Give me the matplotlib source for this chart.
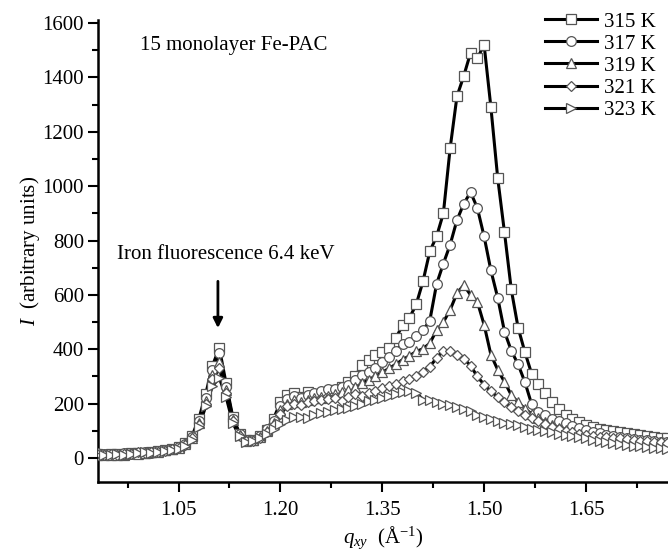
import matplotlib
matplotlib.use('Agg')
import matplotlib.pyplot as plt
from matplotlib.lines import Line2D

plt.rcParams['font.family'] = ['Liberation Serif', 'DejaVu Serif']
plt.rcParams['mathtext.fontset'] = 'custom'
plt.rcParams['mathtext.rm'] = 'Liberation Serif'
plt.rcParams['mathtext.it'] = 'Liberation Serif:italic'

# --- data ---
q = [0.93, 0.94, 0.95, 0.96, 0.97, 0.98, 0.99, 1.00, 1.01, 1.02,
     1.03, 1.04, 1.05, 1.06, 1.07, 1.08, 1.09, 1.10, 1.11, 1.12,
     1.13, 1.14, 1.15, 1.16, 1.17, 1.18, 1.19, 1.20, 1.21, 1.22,
     1.23, 1.24, 1.25, 1.26, 1.27, 1.28, 1.29, 1.30, 1.31, 1.32,
     1.33, 1.34, 1.35, 1.36, 1.37, 1.38, 1.39, 1.40, 1.41, 1.42,
     1.43, 1.44, 1.45, 1.46, 1.47, 1.48, 1.49, 1.50, 1.51, 1.52,
     1.53, 1.54, 1.55, 1.56, 1.57, 1.58, 1.59, 1.60, 1.61, 1.62,
     1.63, 1.64, 1.65, 1.66, 1.67, 1.68, 1.69, 1.70, 1.71, 1.72,
     1.73, 1.74, 1.75, 1.76, 1.77]

I_315 = [15, 12, 14, 16, 13, 18, 20, 18, 22, 25,
         30, 35, 42, 55, 82, 145, 235, 340, 405, 275,
         150, 90, 68, 66, 80, 105, 145, 205, 232, 238,
         225, 243, 226, 222, 236, 250, 262, 279, 300, 342,
         360, 380, 390, 404, 440, 490, 515, 565, 650, 760,
         815, 900, 1140, 1330, 1405, 1490, 1470, 1520, 1290, 1030,
         830, 620, 480, 390, 310, 272, 240, 205, 180, 160,
         145, 132, 122, 114, 108, 104, 100, 97, 93, 89,
         86, 82, 78, 75, 72]

I_317 = [18, 14, 12, 15, 17, 14, 19, 22, 20, 26,
         28, 33, 40, 52, 78, 135, 220, 325, 385, 262,
         145, 88, 66, 68, 82, 108, 138, 190, 218, 228,
         220, 232, 238, 245, 255, 255, 262, 270, 288, 305,
         318, 332, 352, 372, 395, 420, 428, 450, 470, 505,
         640, 715, 785, 875, 935, 978, 920, 815, 690, 590,
         465, 395, 345, 280, 198, 170, 158, 145, 136, 128,
         118, 110, 102, 96, 92, 86, 82, 78, 74, 71,
         68, 65, 62, 60, 58]

I_319 = [12, 16, 13, 12, 15, 18, 16, 20, 23, 22,
         29, 32, 38, 50, 75, 128, 210, 305, 355, 250,
         140, 85, 64, 65, 78, 100, 130, 175, 200, 212,
         205, 215, 222, 226, 230, 236, 242, 252, 262, 276,
         287, 300, 315, 330, 345, 362, 376, 392, 402, 422,
         470, 500, 545, 606, 636, 600, 575, 490, 380, 325,
         280, 232, 205, 182, 162, 148, 132, 120, 110, 102,
         96, 90, 85, 79, 75, 70, 66, 62, 59, 56,
         54, 52, 50, 48, 46]

I_321 = [14, 11, 15, 13, 16, 15, 21, 19, 24, 23,
         27, 34, 37, 48, 72, 122, 200, 290, 330, 240,
         135, 82, 62, 63, 75, 95, 122, 162, 190, 200,
         195, 205, 210, 212, 218, 222, 210, 226, 235, 230,
         240, 248, 258, 265, 272, 282, 290, 300, 318, 336,
         368, 395, 392, 380, 366, 340, 300, 270, 245, 225,
         205, 188, 174, 160, 147, 135, 124, 114, 106, 100,
         95, 90, 86, 82, 79, 76, 74, 72, 70, 67,
         64, 62, 60, 58, 57]

I_323 = [10, 13, 12, 14, 12, 16, 17, 21, 19, 22,
         26, 30, 35, 45, 68, 115, 190, 265, 295, 225,
         128, 80, 60, 62, 72, 88, 108, 125, 140, 150,
         152, 146, 158, 165, 170, 175, 180, 184, 192, 200,
         210, 215, 221, 228, 236, 243, 245, 240, 215, 212,
         205, 200, 195, 188, 180, 172, 160, 150, 142, 135,
         128, 125, 120, 113, 108, 104, 100, 96, 90, 85,
         80, 76, 72, 68, 64, 60, 56, 52, 49, 46,
         43, 40, 38, 36, 34]

labels = ['315 K', '317 K', '319 K', '321 K', '323 K']
series = [I_315, I_317, I_319, I_321, I_323]
markers = ['s', 'o', '^', 'D', '>']
msizes = [6.5, 7, 7, 5.5, 7]

fig = plt.figure(figsize=(6.68, 5.53), dpi=100)
ax = fig.add_axes([98/668, 1 - 482/553, 570/668, 462/553])

# lines first, markers on top
for I in series:
    ax.plot(q, I, color='black', lw=2.2, zorder=2, solid_joinstyle='round')
for I, m, s in zip(series, markers, msizes):
    ax.plot(q, I, ls='none', marker=m, ms=s, mfc='white', mec='#555555',
            mew=0.9, zorder=3)

ax.set_xlim(0.9314, 1.7708)
ax.set_ylim(-88, 1611)

ax.set_xticks([1.05, 1.20, 1.35, 1.50, 1.65])
ax.set_xticklabels(['1.05', '1.20', '1.35', '1.50', '1.65'])
ax.set_xticks([0.975, 1.125, 1.275, 1.425, 1.575, 1.725], minor=True)
ax.set_yticks(range(0, 1601, 200))
ax.set_yticks(range(100, 1600, 200), minor=True)

for side in ['top', 'right']:
    ax.spines[side].set_visible(False)
for side in ['left', 'bottom']:
    ax.spines[side].set_linewidth(1.8)

ax.tick_params(which='major', direction='out', length=7, width=1.5, labelsize=15)
ax.tick_params(which='minor', direction='out', length=4, width=1.5)
ax.tick_params(axis='x', which='major', pad=7)
ax.tick_params(axis='y', which='major', pad=3)

ax.set_ylabel('$I$  (arbitrary units)', fontsize=15, labelpad=0)
ax.set_xlabel('$q_{xy}$  (Å$^{-1}$)', fontsize=15, labelpad=3)

ax.text(0.9933, 1519, '15 monolayer Fe-PAC', fontsize=15, va='center', ha='left')
ax.text(0.9594, 747, 'Iron fluorescence 6.4 keV', fontsize=15, va='center', ha='left')
ax.annotate('', xy=(1.108, 478), xytext=(1.108, 650),
            arrowprops=dict(arrowstyle='-|>', color='black', lw=2,
                            mutation_scale=14, shrinkA=0, shrinkB=0))

handles = [Line2D([], [], color='black', lw=2.2, marker=m, ms=s, mfc='white',
                  mec='#555555', mew=0.9) for m, s in zip(markers, msizes)]
fig.legend(handles, labels, loc='upper left', bbox_to_anchor=(545/668, 1 - 12/553),
           frameon=False, fontsize=15, handlelength=2.5, handletextpad=0.35,
           labelspacing=0.12, borderpad=0, borderaxespad=0)

fig.savefig('out.png', dpi=100)
